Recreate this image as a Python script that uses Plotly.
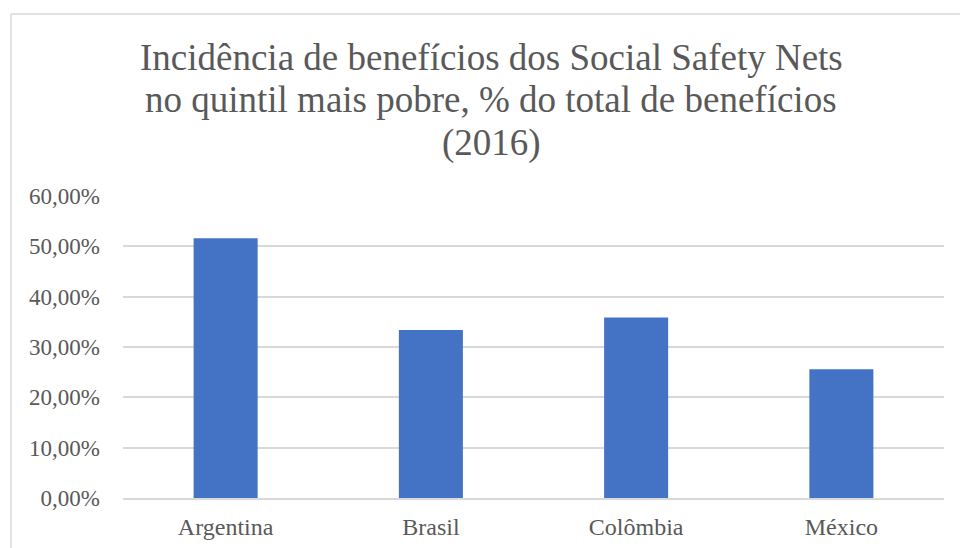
import plotly.graph_objects as go

categories = ["Argentina", "Brasil", "Colômbia", "México"]
values = [0.516, 0.334, 0.3585, 0.256]
tick_vals = [0, 0.1, 0.2, 0.3, 0.4, 0.5, 0.6]
tick_text = ["0,00%", "10,00%", "20,00%", "30,00%", "40,00%", "50,00%", "60,00%"]
title_lines = [
    "Incidência de benefícios dos Social Safety Nets",
    "no quintil mais pobre, % do total de benefícios",
    "(2016)",
]

W, H = 960, 548
L, R, T, B = 123, 16, 196, 50
pw, ph = W - L - R, H - T - B
SERIF = "Liberation Serif"

def px_x(x):
    return (x - L) / pw

def px_y(y):
    return (H - B - y) / ph

fig = go.Figure(go.Bar(
    x=categories, y=values,
    marker=dict(color="#4472C4", line=dict(width=0)),
    hoverinfo="skip",
))

fig.update_layout(
    width=W, height=H,
    margin=dict(l=L, r=R, t=T, b=B, autoexpand=False),
    paper_bgcolor="white", plot_bgcolor="white",
    bargap=0.688,
    showlegend=False,
    font=dict(family=SERIF, color="#595959"),
    xaxis=dict(
        showgrid=False, showline=True, linecolor="#D9D9D9", linewidth=1.5,
        ticks="", tickfont=dict(size=24, color="#595959", family=SERIF),
        ticklabelstandoff=6, automargin=False,
    ),
    yaxis=dict(
        range=[0, 0.6], tickvals=tick_vals, ticktext=tick_text,
        showgrid=True, gridcolor="#D9D9D9", gridwidth=1.5,
        zeroline=False, showline=False, ticks="",
        tickfont=dict(size=23, color="#595959", family=SERIF),
        ticklabelstandoff=22, automargin=False,
    ),
)

# chart title, one line per annotation to reproduce the tight line spacing
for i, line in enumerate(title_lines):
    fig.add_annotation(
        text=line, showarrow=False,
        xref="paper", yref="paper",
        x=px_x(491), y=px_y(57 + 43 * i),
        xanchor="center", yanchor="middle",
        font=dict(size=37, color="#595959", family=SERIF),
    )

# outer chart border (top and left edges visible, chart cropped at right/bottom)
fig.add_shape(type="line", xref="paper", yref="paper",
              x0=px_x(11), x1=px_x(962), y0=px_y(14), y1=px_y(14),
              line=dict(color="#D9D9D9", width=1.5))
fig.add_shape(type="line", xref="paper", yref="paper",
              x0=px_x(11), x1=px_x(11), y0=px_y(14), y1=px_y(550),
              line=dict(color="#D9D9D9", width=1.5))

fig.write_html("out.html")
